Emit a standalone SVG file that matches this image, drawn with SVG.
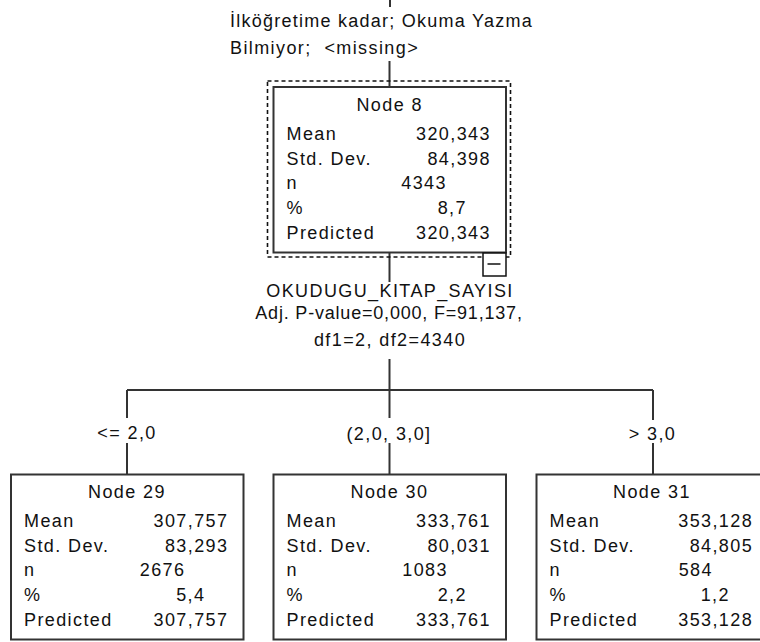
<svg xmlns="http://www.w3.org/2000/svg" width="760" height="642" viewBox="0 0 760 642">
<style>
text{font-family:"Liberation Sans",Arial,sans-serif;font-size:18px;fill:#111;letter-spacing:1.4px}
.box{fill:#fff;stroke:#333;stroke-width:2}
.c{fill:none;stroke:#333;stroke-width:2}
.mid{text-anchor:middle}
.end{text-anchor:end}
</style>
<rect width="760" height="642" fill="#fff"/>
<g id="connectors" class="c">
<path d="M390 0V7"/>
<path d="M389.5 61V87"/>
<path d="M389.5 253V282"/>
<path d="M389.5 359V418"/>
<path d="M127 390H653"/>
<path d="M127 390V418M127 443V475"/>
<path d="M389.5 443V475"/>
<path d="M653 390V420M653 443V475"/>
</g>
<g id="root-label">
<text x="230" y="26.5" style="letter-spacing:1.25px">İlköğretime kadar; Okuma Yazma</text>
<text x="230" y="53.5" style="white-space:pre">Bilmiyor;  &lt;missing&gt;</text>
</g>
<g id="node8">
<rect x="267.5" y="81" width="243" height="176" fill="none" stroke="#111" stroke-width="1.6" stroke-dasharray="4 3"/>
<g transform="translate(273.5,87)">
<rect class="box" x="0" y="0" width="232.5" height="165.5"/>
<text class="mid" x="116.2" y="23.5">Node 8</text>
<text x="13" y="53">Mean</text><text class="end" x="217.4" y="53">320,343</text>
<text x="13" y="77.5">Std. Dev.</text><text class="end" x="217.4" y="77.5">84,398</text>
<text x="13" y="102">n</text><text class="end" x="173.4" y="102">4343</text>
<text x="13" y="126.5">%</text><text class="end" x="193.4" y="126.5">8,7</text>
<text x="13" y="151.5">Predicted</text><text class="end" x="217.4" y="151.5">320,343</text>
</g>
<rect x="483" y="253" width="23" height="23" fill="#fff" stroke="#111" stroke-width="1.5"/>
<path d="M487.5 264H500.5" stroke="#111" stroke-width="1.5"/>
</g>
<g id="split-label">
<text class="mid" x="390" y="297">OKUDUGU_KITAP_SAYISI</text>
<text class="mid" x="389" y="319" style="letter-spacing:0.8px">Adj. P-value=0,000, F=91,137,</text>
<text class="mid" x="390" y="346">df1=2, df2=4340</text>
</g>
<g id="edge-labels">
<text class="mid" x="127" y="439">&lt;= 2,0</text>
<text class="mid" x="389" y="440">(2,0, 3,0]</text>
<text class="mid" x="652.5" y="440">&gt; 3,0</text>
</g>
<g id="node29" transform="translate(11,474.5)">
<rect class="box" x="0" y="0" width="232.5" height="165"/>
<text class="mid" x="116" y="23">Node 29</text>
<text x="13" y="52.5">Mean</text><text class="end" x="217.4" y="52.5">307,757</text>
<text x="13" y="77">Std. Dev.</text><text class="end" x="217.4" y="77">83,293</text>
<text x="13" y="101.5">n</text><text class="end" x="174.4" y="101.5">2676</text>
<text x="13" y="126">%</text><text class="end" x="194.4" y="126">5,4</text>
<text x="13" y="151">Predicted</text><text class="end" x="217.4" y="151">307,757</text>
</g>
<g id="node30" transform="translate(273.5,474.5)">
<rect class="box" x="0" y="0" width="232.5" height="165"/>
<text class="mid" x="116" y="23">Node 30</text>
<text x="13" y="52.5">Mean</text><text class="end" x="217.4" y="52.5">333,761</text>
<text x="13" y="77">Std. Dev.</text><text class="end" x="217.4" y="77">80,031</text>
<text x="13" y="101.5">n</text><text class="end" x="174.4" y="101.5">1083</text>
<text x="13" y="126">%</text><text class="end" x="193.4" y="126">2,2</text>
<text x="13" y="151">Predicted</text><text class="end" x="217.4" y="151">333,761</text>
</g>
<g id="node31" transform="translate(536.5,474.5)">
<rect class="box" x="0" y="0" width="232.5" height="165"/>
<text class="mid" x="115.5" y="23">Node 31</text>
<text x="13" y="52.5">Mean</text><text class="end" x="216.6" y="52.5">353,128</text>
<text x="13" y="77">Std. Dev.</text><text class="end" x="216.6" y="77">84,805</text>
<text x="13" y="101.5">n</text><text class="end" x="176.4" y="101.5">584</text>
<text x="13" y="126">%</text><text class="end" x="193.4" y="126">1,2</text>
<text x="13" y="151">Predicted</text><text class="end" x="216.6" y="151">353,128</text>
</g>
</svg>
